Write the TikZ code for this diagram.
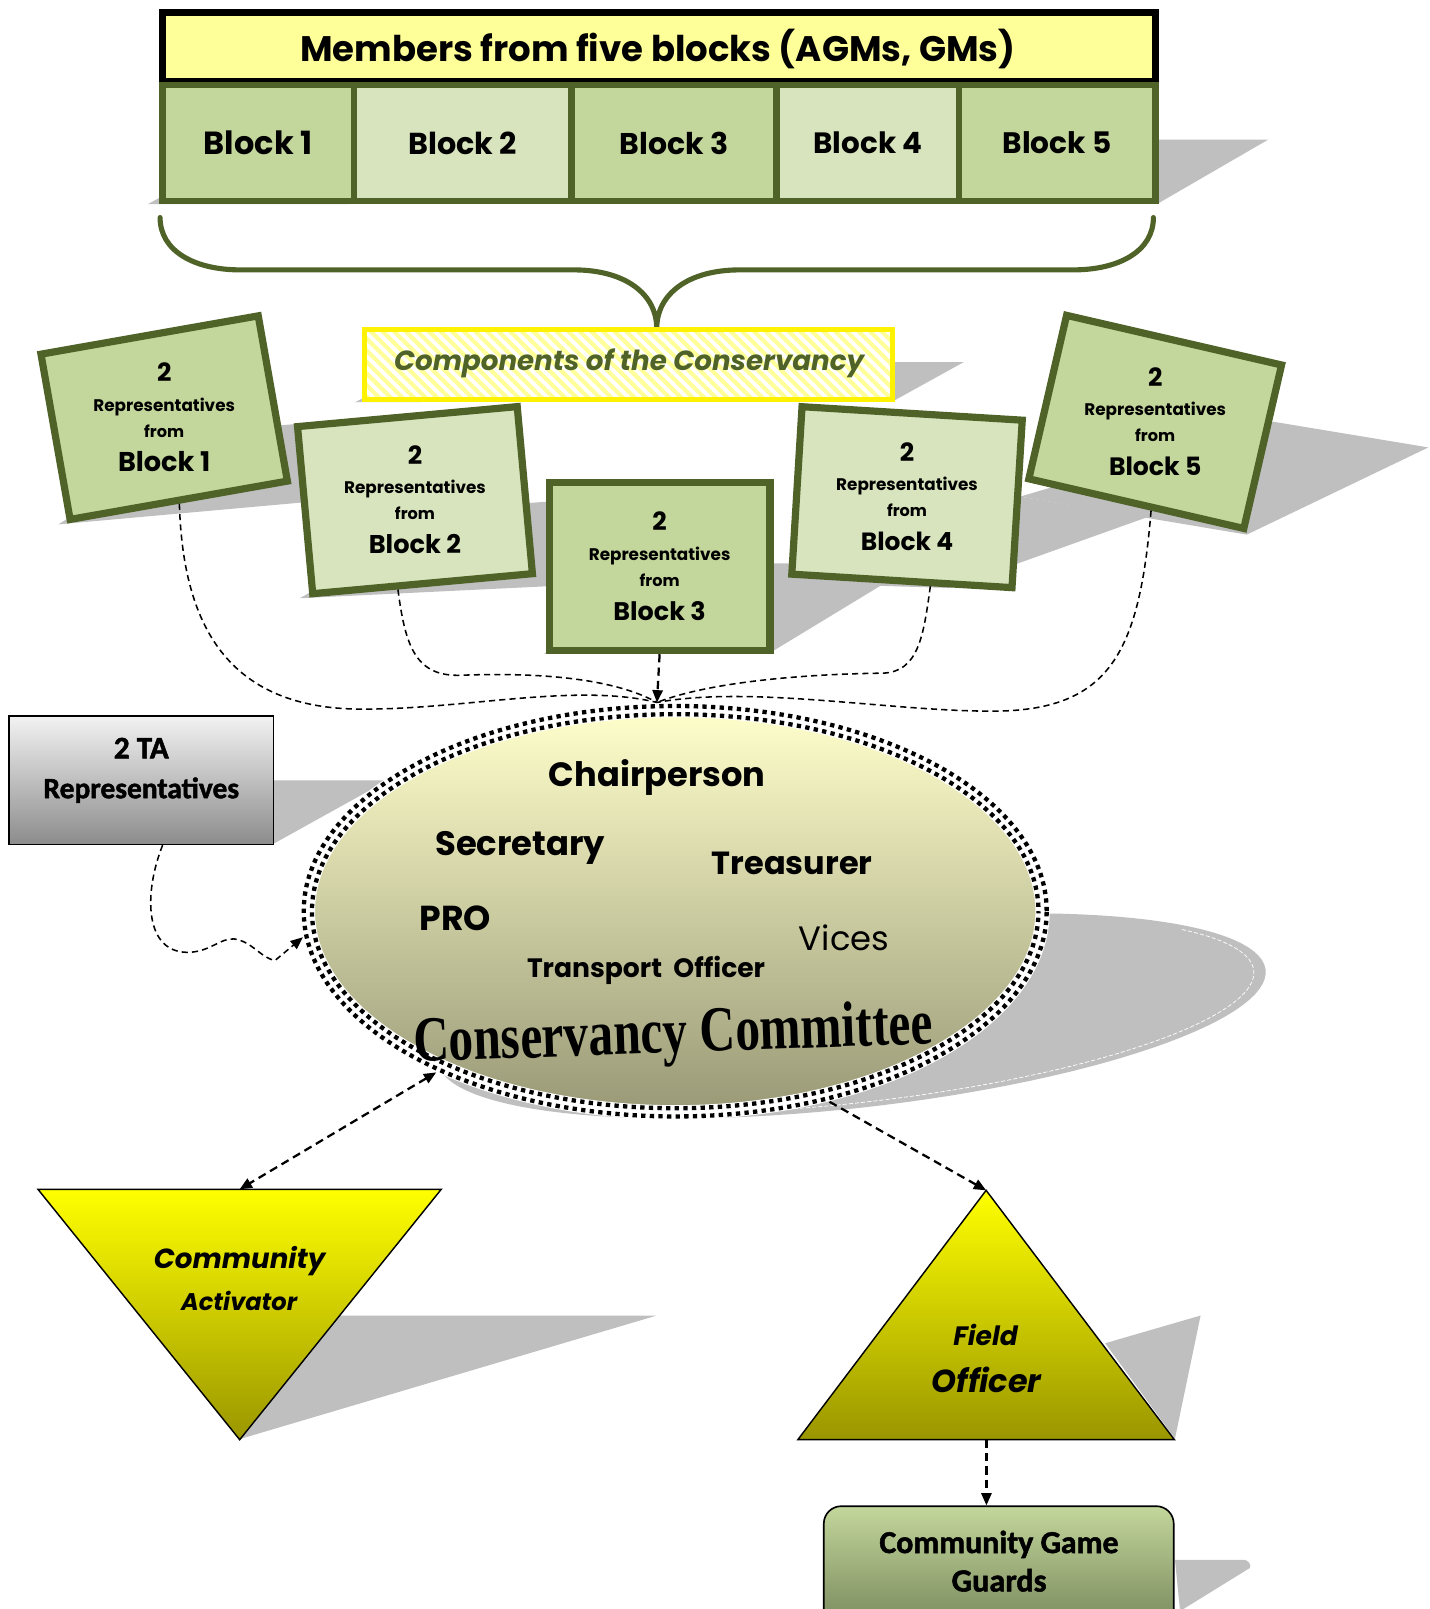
\documentclass[tikz,border=0pt]{standalone}
\usepackage{fontspec}
\usepackage{graphicx}
\setmainfont{Poppins}
\newfontfamily\calib{Carlito}[BoldFeatures={FakeBold=1.6}]
\newfontfamily\tnr{Liberation Serif}
\usetikzlibrary{shapes.geometric,arrows.meta,patterns.meta,calc}
\definecolor{oliveg}{HTML}{4F6228}
\definecolor{gA}{HTML}{C3D69B}
\definecolor{gB}{HTML}{D7E4BD}
\definecolor{hdr}{HTML}{FFFF99}
\definecolor{shd}{HTML}{BFBFBF}
\definecolor{ellT}{HTML}{FFFFCC}
\definecolor{ellM}{HTML}{DCDCAA}
\definecolor{ellB}{HTML}{999977}
\definecolor{triB}{HTML}{9A9600}
\definecolor{cggT}{HTML}{C3D69B}
\definecolor{cggB}{HTML}{76865A}
\definecolor{taT}{HTML}{F2F2F2}
\definecolor{taB}{HTML}{8C8C8C}
\newcommand\fw[2]{\resizebox{#1pt}{!}{#2}}
\newcommand\reptxt[2]{%
  \node[lbl] (#1n) at ($(#1.center)+(0,-44)$) {\fw{14}{\bfseries 2}};
  \node[lbl] (#1r) at ($(#1.center)+(0,-10.5)$) {\fw{138}{\bfseries Representatives}};
  \node[lbl] (#1f) at ($(#1.center)+(0,13)$) {\fw{39}{\bfseries from}};
  \node[lbl] (#1b) at ($(#1.center)+(0,43)$) {\fw{90}{\bfseries Block #2}};
}
\begin{document}
\begin{tikzpicture}[x=1pt,y=-1pt,
  lbl/.style={inner sep=0pt,outer sep=0pt},
  shadowfill/.style={fill=shd},
  blockcell/.style={draw=oliveg,line width=6.5pt,minimum height=112.9pt,inner sep=0pt},
  repbox/.style={draw=oliveg,line width=7pt,minimum width=215pt,minimum height=163.5pt,inner sep=0pt},
  conn/.style={line width=1.5pt,dash pattern=on 6pt off 4pt},
  connb/.style={line width=2.2pt,dash pattern=on 8pt off 5pt},
  tipA/.style={-{Triangle[length=12pt,width=10pt]}},
  tipAB/.style={{Triangle[length=12pt,width=10pt]}-{Triangle[length=12pt,width=10pt]}}
]
\useasboundingbox (0,0) rectangle (1393,1568);

% ---------- shadows ----------
\fill[shadowfill] (144,199) -- (1129,198) -- (1236,136) -- (260,136) -- cycle;
\fill[shadowfill] (346,392) -- (872,390) -- (939,353) -- (420,353) -- cycle;
\fill[shadowfill] (57,511) -- (302,489) -- (305,412) -- (200,420) -- cycle;
\fill[shadowfill] (292,583) -- (540,571) -- (545,488) -- (450,495) -- cycle;
\fill[shadowfill] (530,637) -- (754,634) -- (894,549) -- (670,549) -- cycle;
\fill[shadowfill] (765,568) -- (925,573) -- (1118,504) -- (994,484) -- (800,475) -- cycle;
\fill[shadowfill] (994,484) -- (1215,521) -- (1392,436) -- (1241,411) -- cycle;
\fill[shadowfill] (267,760.4) -- (378,760.4) -- (267,822) -- cycle;
\fill[shadowfill] plot[domain=0:360,samples=120]
  ({658+365*cos(\x)+172*(1-sin(\x))},{1090-100*(1-sin(\x))}) -- cycle;
\draw[white,line width=0.7pt,dash pattern=on 4pt off 2pt] plot[domain=-60:80,samples=60]
  ({658+357*cos(\x)+169*(1-sin(\x))},{1085-96*(1-sin(\x))});
\fill[shadowfill] (235,1402) -- (331,1282) -- (640,1282) -- cycle;
\fill[shadowfill] (1077,1309) -- (1170,1282) -- (1145,1402) -- cycle;
\fill[shadowfill] (1145,1520) -- (1212,1520) to[out=0,in=60] (1218,1528) -- (1150,1570) -- cycle;

% ---------- header and blocks ----------
\node[draw=black,line width=6.5pt,fill=hdr,minimum width=967.5pt,minimum height=67pt,inner sep=0pt] (hdr) at (642,45.7) {};
\node[lbl] (hdrtxt) at (641,47.5) {\fw{697}{\bfseries Members from five blocks (AGMs, GMs)}};
\node[blockcell,fill=gA,minimum width=186.75pt] (b1) at (251.6,139.3) {\fw{106}{\bfseries Block 1}};
\node[blockcell,fill=gB,minimum width=212pt] (b2) at (451,139.3) {\fw{106}{\bfseries Block 2}};
\node[blockcell,fill=gA,minimum width=200pt] (b3) at (657,139.3) {\fw{106}{\bfseries Block 3}};
\node[blockcell,fill=gB,minimum width=177.6pt] (b4) at (845.8,139.3) {\fw{106}{\bfseries Block 4}};
\node[blockcell,fill=gA,minimum width=191.15pt] (b5) at (1030.2,139.3) {\fw{106}{\bfseries Block 5}};

% ---------- brace ----------
\draw[oliveg,line width=5pt,line join=round,line cap=round]
  (156,212) .. controls (156,245) and (190,263) .. (234,263) -- (559,263)
  .. controls (610,263) and (640,287) .. (640,320)
  .. controls (640,287) and (670,263) .. (721,263) -- (1046,263)
  .. controls (1090,263) and (1124,245) .. (1124,212);

% ---------- components box ----------
\node[draw=yellow,line width=5pt,preaction={fill=white},
  pattern={Lines[angle=-45,distance=8pt,line width=4pt]},pattern color=hdr,
  minimum width=514pt,minimum height=68pt,inner sep=0pt] (comp) at (612.5,355) {};
\node[lbl,text=oliveg] (comptxt) at (613,354) {\fw{458}{\bfseries\itshape Components of the Conservancy}};

% ---------- representative boxes ----------
\node[repbox,fill=gA,rotate=10] (r1) at (160,407) {};
\node[repbox,fill=gB,rotate=5.2] (r2) at (404.4,487.4) {};
\node[repbox,fill=gA] (r3) at (642.8,552.3) {};
\node[repbox,fill=gB,rotate=-3.5] (r4) at (883.9,484.5) {};
\node[repbox,fill=gA,rotate=-13] (r5) at (1125.75,411.15) {};
\reptxt{r1}{1}
\reptxt{r2}{2}
\reptxt{r3}{3}
\reptxt{r4}{4}
\reptxt{r5}{5}

% ---------- TA box ----------
\node[draw=black,line width=1.6pt,top color=taT,bottom color=taB,minimum width=258pt,minimum height=125pt,inner sep=0pt] (ta) at (137.7,760.35) {};
\node[lbl] (ta1) at (137.7,729) {\fw{53.5}{\calib\bfseries 2 TA}};
\node[lbl] (ta2) at (137.7,770) {\fw{190.6}{\calib\bfseries Representatives}};

% ---------- committee ellipse ----------
\node[ellipse,minimum width=731pt,minimum height=407pt,inner sep=0pt] (cc) at (658,888) {};
\shade[top color=ellT,middle color=ellM,bottom color=ellB] (658,888) ellipse [x radius=358pt,y radius=196pt];
\draw[white,line width=14pt] (658,888) ellipse [x radius=358pt,y radius=196pt];
\draw[black,line width=4.2pt,dash pattern=on 4.2pt off 4.2pt] (658,888) ellipse [x radius=362pt,y radius=200pt];
\draw[black,line width=4.2pt,dash pattern=on 4.2pt off 4.2pt,dash phase=4.2pt] (658,888) ellipse [x radius=354pt,y radius=192pt];
\node[lbl] (chair) at (640.4,757.8) {\fw{211}{\bfseries Chairperson}};
\node[lbl] (secr) at (507,826) {\fw{165.7}{\bfseries Secretary}};
\node[lbl] (treas) at (772,841) {\fw{156.5}{\bfseries Treasurer}};
\node[lbl] (pro) at (443.8,894.4) {\fw{69.6}{\bfseries PRO}};
\node[lbl] (trans) at (629.6,946) {\fw{232}{\bfseries Transport~ Officer}};
\node[lbl] (vices) at (822.6,914) {\fw{88}{Vices}};
\node[lbl,rotate=2] (cct) at (656,1011) {\scalebox{1}[1.3]{\fw{506}{\tnr\bfseries Conservancy Committee}}};

% ---------- triangles ----------
\coordinate (caTL) at (37,1159);
\coordinate (caTR) at (430,1159);
\coordinate (caB) at (233.6,1403);
\coordinate (caTop) at (233.5,1159);
\shade[top color=yellow,bottom color=triB,draw=black,line width=1.4pt] (caTL) -- (caTR) -- (caB) -- cycle;
\node[lbl] (ca1) at (233.5,1229) {\fw{167}{\bfseries\itshape Community}};
\node[lbl] (ca2) at (233,1267.6) {\fw{113}{\bfseries\itshape Activator}};

\coordinate (foA) at (961,1160);
\coordinate (foL) at (777.5,1403);
\coordinate (foR) at (1144.5,1403);
\coordinate (foBase) at (961.3,1403);
\shade[top color=yellow,bottom color=triB,draw=black,line width=1.4pt] (foA) -- (foR) -- (foL) -- cycle;
\node[lbl] (fo1) at (960.5,1300.5) {\fw{63}{\bfseries\itshape Field}};
\node[lbl] (fo2) at (961.3,1344.5) {\fw{107}{\bfseries\itshape Officer}};

% ---------- game guards ----------
\node[draw=black,line width=1.6pt,rounded corners=17pt,top color=cggT,bottom color=cggB,minimum width=341pt,minimum height=122.2pt,inner sep=0pt] (cgg) at (973.3,1528.9) {};
\node[lbl] (cgg1) at (973.5,1505) {\fw{233}{\calib\bfseries Community Game}};
\node[lbl] (cgg2) at (973.6,1540) {\fw{92.5}{\calib\bfseries Guards}};

% ---------- connectors ----------
\coordinate (ctop) at (cc.95);
\draw[conn] (r1.south) .. controls (178,600) and (215,690) .. (350,691) .. controls (450,692) and (560,665) .. (ctop);
\draw[conn] ($(r2.south west)!0.39!(r2.south east)$) .. controls (395,630) and (405,660) .. (450,658) .. controls (530,655) and (600,662) .. (ctop);
\draw[conn] ($(r4.south west)!0.626!(r4.south east)$) .. controls (900,620) and (895,655) .. (860,656) .. controls (780,657) and (690,665) .. (ctop);
\draw[conn] ($(r5.south west)!0.57!(r5.south east)$) .. controls (1110,640) and (1080,695) .. (960,693) .. controls (860,692) and (730,668) .. (ctop);
\draw[connb,tipA] (r3.south) -- (ctop);
\draw[conn,tipA] ($(ta.south west)!0.58!(ta.south east)$) .. controls (140,870) and (140,930) .. (185,928)
  .. controls (205,927) and (215,914) .. (228,915) .. controls (245,917) and (255,934) .. (268,936) -- (cc.184);
\draw[connb,tipAB] (cc.214.5) -- (caTop);
\draw[connb,tipA] (cc.-51) -- (foA);
\draw[connb,tipA] (foBase) -- (foBase |- cgg.north);
\end{tikzpicture}
\end{document}
